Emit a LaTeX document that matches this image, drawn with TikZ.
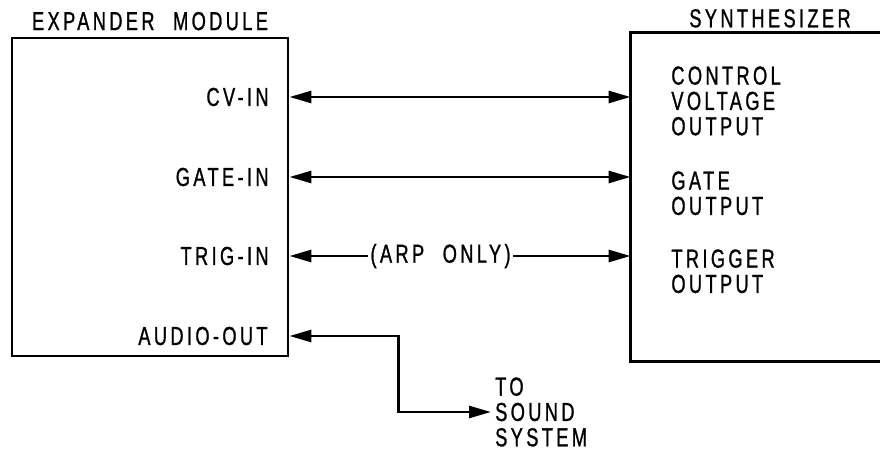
\documentclass[tikz,border=0pt]{standalone}
\usepackage{fontspec}
\newfontfamily\lettering[FakeStretch=0.7,LetterSpace=13,FakeBold=1,WordSpace=2.2]{Liberation Sans}
\usetikzlibrary{arrows.meta,positioning}

\begin{document}
\begin{tikzpicture}[
      x=0.025cm, y=-0.025cm,
      line width=2pt,
      label/.style={font=\lettering\fontsize{18.5}{18}\selectfont, inner sep=0pt},
      unit/.style={minimum width=6.9cm, minimum height=7.95cm, inner sep=0pt},
      outtext/.style={label, align=left, anchor=north west},
      link/.style={{Triangle[length=5.5mm,width=3mm]}-{Triangle[length=5.5mm,width=3mm]}}
  ]
  \useasboundingbox (0,0) rectangle (880,453);
  \node[unit, draw] (expander) at (150,197) {};
  \node[unit, minimum height=8.15cm] (synth) at (770,197) {};
  \draw (synth.north east) -- (synth.north west) -- (synth.south west) -- (synth.south east);

  \node[label, above=1.2mm of expander] (expandertitle) {EXPANDER MODULE};
  \node[label, above=0.9mm of synth] (synthtitle) {SYNTHESIZER};

  \node[label, anchor=east] (cvin) at (270,97) {CV-IN};
  \node[label, anchor=east] (gatein) at (270,177) {GATE-IN};
  \node[label, anchor=east] (trigin) at (270,256) {TRIG-IN};
  \node[label, anchor=east] (audioout) at (269,336) {AUDIO-OUT};

  \node[outtext] (cvout) at (670,65) {CONTROL\\VOLTAGE\\OUTPUT};
  \node[outtext] (gateout) at (670,170) {GATE\\OUTPUT};
  \node[outtext] (trigout) at (670,248) {TRIGGER\\OUTPUT};
  \node[outtext, anchor=west, inner xsep=2pt] (sound) at (491,412) {TO\\SOUND\\SYSTEM};

  \draw[link] (expander.east |- cvin) -- (synth.west |- cvin);
  \draw[link] (expander.east |- gatein) -- (synth.west |- gatein);
  \draw[link] (expander.east |- trigin) -- node[label, fill=white, inner xsep=2pt, pos=0.443] (arp) {(ARP ONLY)} (synth.west |- trigin);
  \draw[link] (expander.east |- audioout) -- ++(109,0) |- (sound.west);
\end{tikzpicture}
\end{document}
